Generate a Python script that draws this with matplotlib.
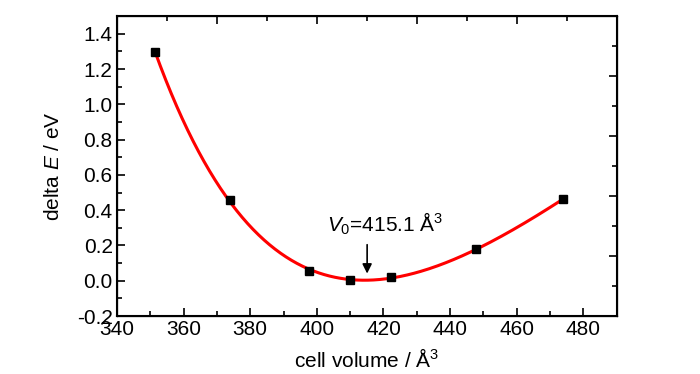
import numpy as np
import matplotlib
matplotlib.use("Agg")
import matplotlib.pyplot as plt

plt.rcParams['font.family'] = ['Liberation Sans', 'DejaVu Sans']
plt.rcParams['mathtext.fontset'] = 'custom'
plt.rcParams['mathtext.rm'] = 'Liberation Sans'
plt.rcParams['mathtext.it'] = 'Liberation Sans:italic'

# calculated points (cell volume in A^3, delta E in eV)
volume = [351.4, 373.9, 397.7, 409.9, 422.2, 447.7, 473.9]
delta_e = [1.298, 0.457, 0.055, 0.004, 0.020, 0.180, 0.461]
v0_text = r"$V_0$=415.1 Å$^3$"

# Birch-Murnaghan fit: cubic polynomial in V^(-2/3)
v = np.array(volume)
coef = np.polyfit(v ** (-2.0 / 3.0), np.array(delta_e), 3)
v_fit = np.linspace(v.min(), v.max(), 300)
e_fit = np.polyval(coef, v_fit ** (-2.0 / 3.0))

fig = plt.figure(figsize=(7.0, 3.74), dpi=100)
ax = fig.add_axes([0.167, 0.155, 0.714, 0.802])

ax.plot(v_fit, e_fit, color='red', lw=2.2, zorder=2)
ax.plot(volume, delta_e, 's', color='black', ms=6, zorder=3)

ax.set_xlim(340, 490)
ax.set_ylim(-0.2, 1.5)
ax.set_xticks(np.arange(340, 481, 20))
ax.set_xticks(np.arange(350, 491, 10), minor=True)
ax.set_yticks(np.arange(-0.2, 1.41, 0.2))
ax.set_yticks(np.arange(-0.1, 1.51, 0.1), minor=True)
ax.set_yticklabels(['%.1f' % t for t in np.arange(-0.2, 1.41, 0.2)])
ax.tick_params(which='both', direction='in', labelsize=15, width=1.2, pad=3)
ax.tick_params(which='major', length=6)
ax.tick_params(which='minor', length=3.5)
for s in ax.spines.values():
    s.set_linewidth(1.5)

# Origin style top/right axes with their own tick spacing
top = ax.twiny()
top.set_xlim(340, 490)
top.set_xticks(np.arange(340, 491, 30))
top.set_xticks(np.arange(355, 491, 30), minor=True)
top.tick_params(which='both', direction='in', labeltop=False, width=1.2)
top.tick_params(which='major', length=6)
top.tick_params(which='minor', length=3.5)
right = ax.twinx()
right.set_ylim(-0.2, 1.5)
right.set_yticks(np.arange(-0.2, 1.51, 0.34))
right.set_yticks(np.arange(-0.03, 1.5, 0.34), minor=True)
right.tick_params(which='both', direction='in', labelright=False, width=1.2)
right.tick_params(which='major', length=6)
right.tick_params(which='minor', length=3.5)

ax.set_xlabel('cell volume / Å$^3$', fontsize=15, labelpad=6)
ax.set_ylabel('delta $E$ / eV', fontsize=15, labelpad=10)

ax.annotate('', xy=(415.1, 0.025), xytext=(415.1, 0.22),
            arrowprops=dict(arrowstyle='-|>', color='black', lw=1.2,
                            mutation_scale=14))
ax.text(403, 0.25, v0_text, fontsize=15, ha='left', va='bottom')

fig.savefig('out.png', dpi=100)
